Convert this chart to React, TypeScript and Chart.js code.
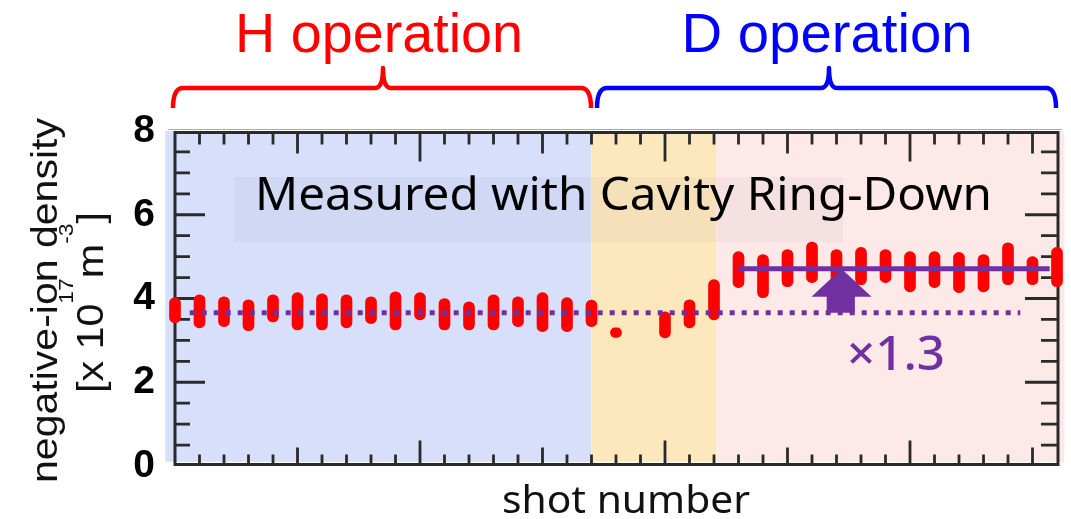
import React, { useEffect, useRef } from "react";
import { Chart, registerables } from "chart.js";

Chart.register(...registerables);

// Shot index of each measurement
const shots = [0, 1, 2, 3, 4, 5, 6, 7, 8, 9, 10, 11, 12, 13, 14, 15, 16, 17, 18, 20, 21, 22, 23, 24, 25, 26, 27, 28, 29, 30, 31, 32, 33, 34, 35, 36];
// Lower / upper extent of each negative-ion density measurement [x 10^17 m^-3]
const densityLow = [3.42, 3.3, 3.33, 3.23, 3.44, 3.25, 3.25, 3.3, 3.4, 3.25, 3.49, 3.25, 3.25, 3.25, 3.33, 3.21, 3.21, 3.33, 3.07, 3.06, 3.3, 3.49, 4.26, 4.02, 4.28, 4.38, 4.33, 4.33, 4.38, 4.16, 4.26, 4.14, 4.16, 4.33, 4.33, 4.28];
const densityHigh = [4.02, 4.09, 4.04, 3.97, 4.09, 4.14, 4.11, 4.09, 4.04, 4.16, 4.14, 4.0, 3.92, 4.09, 4.04, 4.14, 4.02, 3.96, 3.3, 3.68, 3.97, 4.45, 5.12, 5.05, 5.17, 5.35, 5.17, 5.22, 5.17, 5.12, 5.12, 5.1, 5.05, 5.33, 5.0, 5.22];

// Average levels: H operation and D operation
const hMean = 3.66;
const dMean = 4.71;
const hMeanSpan = [0.6, 34.5];
const dMeanSpan = [23, 35.7];
const ratioLabel = "×1.3";

// Operation phases along the shot axis
const phaseEdges = [-0.4, 17.0, 22.1, 36.3];
const phaseColors = ["#d7dffa", "#fde8bd", "#fde9e7"];

const yTicks = [0, 2, 4, 6, 8];

const PURPLE = "#7030a0";

function fitText(ctx: CanvasRenderingContext2D, text: string, x: number, y: number, width: number, align: "left" | "center") {
  const w = ctx.measureText(text).width;
  const s = width / w;
  ctx.save();
  ctx.translate(align === "center" ? x - width / 2 : x, y);
  ctx.scale(s, 1);
  ctx.textAlign = "left";
  ctx.fillText(text, 0, 0);
  ctx.restore();
}

const decorPlugin = {
  id: "decor",
  beforeDatasetsDraw(chart: any) {
    const { ctx, chartArea } = chart;
    const xs = chart.scales.x;
    const ys = chart.scales.y;
    const top = chartArea.top;
    const bottom = ys.getPixelForValue(0.1);
    ctx.save();
    // phase backgrounds
    for (let i = 0; i < phaseColors.length; i++) {
      const x0 = xs.getPixelForValue(phaseEdges[i]);
      const x1 = xs.getPixelForValue(phaseEdges[i + 1]);
      ctx.fillStyle = phaseColors[i];
      ctx.fillRect(x0, top, x1 - x0, bottom - top);
    }
    // caption box and caption
    ctx.fillStyle = "rgba(40,40,80,0.035)";
    ctx.fillRect(234, 177, 609, 65);
    ctx.fillStyle = "#000";
    ctx.font = '45px "Noto Sans"';
    ctx.textBaseline = "alphabetic";
    fitText(ctx, "Measured with Cavity Ring-Down", 255, 210, 737, "left");

    // frame
    const L = chartArea.left, R = chartArea.right, T = chartArea.top, B = chartArea.bottom;
    ctx.strokeStyle = "#aaa";
    ctx.lineWidth = 1;
    ctx.beginPath();
    ctx.moveTo(L - 7, T - 1.5);
    ctx.lineTo(R + 5, T - 1.5);
    ctx.stroke();

    ctx.filter = "blur(0.6px)";
    ctx.strokeStyle = "#2a2a2a";
    ctx.lineWidth = 3;
    ctx.strokeRect(L, T + 1.5, R - L + 1, B - T - 3);

    // inward tick marks
    ctx.lineWidth = 2.8;
    ctx.beginPath();
    for (let v = 1; v < 36; v++) {
      const px = xs.getPixelForValue(v);
      const topLen = v % 10 === 0 ? 29 : v % 5 === 0 ? 21 : 12;
      const botLen = v % 10 === 0 ? 24 : v % 5 === 0 ? 17 : 10;
      ctx.moveTo(px, T + 1.5);
      ctx.lineTo(px, T + 1.5 + topLen);
      ctx.moveTo(px, B - 1.5);
      ctx.lineTo(px, B - 1.5 - botLen);
    }
    for (let v = 0.5; v < 8; v += 0.5) {
      const py = ys.getPixelForValue(v);
      const long = v === 2 || v === 4 || v === 6;
      ctx.moveTo(L, py);
      ctx.lineTo(L + (long ? 30 : 15), py);
      ctx.moveTo(R, py);
      ctx.lineTo(R - (long ? 32 : 16), py);
    }
    ctx.stroke();
    ctx.restore();
  },
  beforeDatasetDraw(chart: any, args: any) {
    if (args.index === 0) {
      chart.ctx.save();
      chart.ctx.filter = "blur(0.7px)";
    }
  },
  afterDatasetDraw(chart: any, args: any) {
    if (args.index === 0) chart.ctx.restore();
  },
  afterDatasetsDraw(chart: any) {
    const { ctx } = chart;
    const xs = chart.scales.x;
    const ys = chart.scales.y;
    const X = (v: number) => xs.getPixelForValue(v);
    const Y = (v: number) => ys.getPixelForValue(v);
    // increase arrow from the H level to the D level
    ctx.save();
    ctx.fillStyle = PURPLE;
    ctx.beginPath();
    ctx.moveTo(X(27.2), Y(dMean));
    ctx.lineTo(X(28.43), Y(4.04));
    ctx.lineTo(X(27.75), Y(4.04));
    ctx.lineTo(X(27.75), Y(hMean));
    ctx.lineTo(X(26.6), Y(hMean));
    ctx.lineTo(X(26.6), Y(4.04));
    ctx.lineTo(X(25.98), Y(4.04));
    ctx.closePath();
    ctx.fill();
    ctx.font = '500 48px "Noto Sans"';
    ctx.textBaseline = "alphabetic";
    fitText(ctx, ratioLabel, 847, 370, 98, "left");
    ctx.restore();
  },
  afterDraw(chart: any) {
    const { ctx } = chart;
    ctx.save();
    ctx.textBaseline = "alphabetic";
    // operation headers
    ctx.font = '55px "Liberation Sans"';
    ctx.fillStyle = "#ff0000";
    fitText(ctx, "H operation", 379, 52, 288, "center");
    ctx.fillStyle = "#0000ff";
    fitText(ctx, "D operation", 827, 52, 291, "center");

    const brace = (x0: number, xc: number, x1: number, color: string) => {
      ctx.strokeStyle = color;
      ctx.lineWidth = 4.5;
      ctx.lineJoin = "round";
      ctx.beginPath();
      ctx.moveTo(x0, 108);
      ctx.quadraticCurveTo(x0, 88, x0 + 10, 88);
      ctx.lineTo(xc - 8, 88);
      ctx.quadraticCurveTo(xc, 88, xc, 68);
      ctx.quadraticCurveTo(xc, 88, xc + 8, 88);
      ctx.lineTo(x1 - 10, 88);
      ctx.quadraticCurveTo(x1, 88, x1, 108);
      ctx.stroke();
    };
    brace(173, 383, 591, "#ff0000");
    brace(597, 829, 1056, "#0000ff");

    // axis titles
    ctx.fillStyle = "#111";
    ctx.font = '38px "Noto Sans"';
    fitText(ctx, "shot number", 626, 513, 248, "center");

    ctx.save();
    ctx.translate(57, 300.5);
    ctx.rotate(-Math.PI / 2);
    ctx.font = '36px "Liberation Sans"';
    fitText(ctx, "negative-ion density", 0, 0, 365, "center");
    ctx.restore();

    // unit line with superscripts
    const parts: [string, boolean][] = [["[x 10", false], ["17", true], ["m", false], ["-3", true], ["]", false]];
    const mainFont = '36px "Liberation Sans"';
    const supFont = '20px "Liberation Sans"';
    let total = 0;
    const widths = parts.map(([t, sup]) => {
      ctx.font = sup ? supFont : mainFont;
      const w = ctx.measureText(t).width;
      total += w;
      return w;
    });
    const target = 181;
    const s = target / total;
    ctx.save();
    ctx.translate(103, 302.5);
    ctx.rotate(-Math.PI / 2);
    ctx.scale(s, 1);
    let cx = -total / 2;
    parts.forEach(([t, sup], i) => {
      ctx.font = sup ? supFont : mainFont;
      ctx.fillText(t, cx, sup ? -30 : 0);
      cx += widths[i];
    });
    ctx.restore();
    ctx.restore();
  },
};

export default function App() {
  const ref = useRef<HTMLCanvasElement>(null);
  useEffect(() => {
    document.body.style.margin = "0";
    const canvas = ref.current;
    if (!canvas) return;
    const chart = new Chart(canvas, {
      type: "bar",
      data: {
        datasets: [
          {
            type: "bar",
            label: "density",
            data: shots.map((s, i) => ({ x: s, y: [densityLow[i], densityHigh[i]] })) as any,
            backgroundColor: "#ff0000",
            borderWidth: 0,
            barThickness: 11,
            borderRadius: 6,
            borderSkipped: false,
            clip: false,
            order: 2,
          },
          {
            type: "line",
            label: "H level",
            data: hMeanSpan.map((x) => ({ x, y: hMean })),
            borderColor: PURPLE,
            borderWidth: 5,
            borderDash: [5, 7],
            borderCapStyle: "butt",
            pointRadius: 0,
            order: 1,
          },
          {
            type: "line",
            label: "D level",
            data: dMeanSpan.map((x) => ({ x, y: dMean })),
            borderColor: PURPLE,
            borderWidth: 5,
            pointRadius: 0,
            order: 0,
          },
        ],
      },
      options: {
        animation: false,
        responsive: false,
        devicePixelRatio: 1,
        layout: { padding: { left: 0, top: 131, right: 14, bottom: 53 } },
        plugins: { legend: { display: false }, tooltip: { enabled: false } },
        scales: {
          x: {
            type: "linear",
            min: 0,
            max: 36,
            offset: false,
            display: false,
          },
          y: {
            min: 0,
            max: 8,
            afterFit: (scale: any) => {
              scale.width = 175;
            },
            afterBuildTicks: (scale: any) => {
              scale.ticks = yTicks.map((v) => ({ value: v }));
            },
            grid: { display: false, drawTicks: false },
            border: { display: false },
            ticks: {
              padding: 20,
              color: "#000",
              font: { family: "Liberation Sans", size: 39, weight: "bold" },
            },
          },
        },
      },
      plugins: [decorPlugin],
    });
    return () => chart.destroy();
  }, []);
  return (
    <div style={{ width: 1071, height: 519, background: "#fff" }}>
      <canvas ref={ref} width={1071} height={519} />
    </div>
  );
}
